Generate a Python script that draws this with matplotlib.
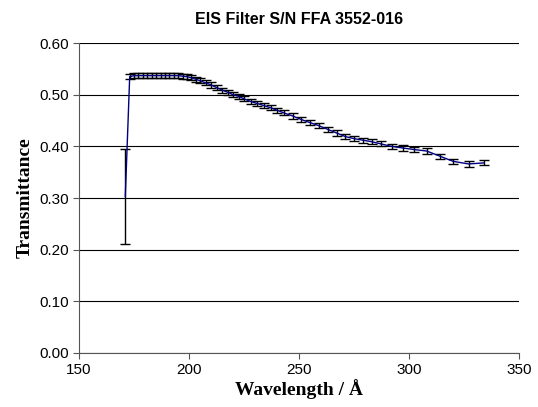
#!/usr/bin/env python3
"""EIS filter transmittance curve with error bars."""

import matplotlib
matplotlib.use("Agg")
import matplotlib.pyplot as plt

SANS = ["Liberation Sans", "DejaVu Sans"]
SERIF = ["Liberation Serif", "DejaVu Serif"]

wavelength = [171, 173, 175, 177, 179, 181, 183, 185, 187, 189, 191, 193, 195,
              197, 199, 201, 203, 205, 207.5, 210, 212.5, 215, 217.5, 220, 222.5,
              225, 228, 231, 234, 237, 240, 243, 247, 251, 255, 259, 263, 267,
              271, 275, 279, 283, 287, 292, 297, 302, 308, 314, 320, 327, 334]
transmittance = [0.303, 0.535, 0.537, 0.537, 0.537, 0.537, 0.537, 0.537, 0.537,
                 0.537, 0.537, 0.537, 0.537, 0.536, 0.535, 0.533, 0.530, 0.527,
                 0.523, 0.519, 0.514, 0.509, 0.505, 0.500, 0.497, 0.492, 0.487,
                 0.483, 0.479, 0.475, 0.470, 0.465, 0.459, 0.452, 0.446, 0.440,
                 0.433, 0.426, 0.419, 0.415, 0.412, 0.409, 0.405, 0.400, 0.397,
                 0.394, 0.391, 0.381, 0.371, 0.366, 0.368]
errors = [0.092] + [0.005] * 50

fig = plt.figure(figsize=(5.38, 4.07), dpi=100)
ax = fig.add_axes([0.147, 0.133, 0.818, 0.761])

ax.errorbar(wavelength, transmittance, yerr=errors, fmt="none", ecolor="black",
            elinewidth=1.0, capsize=3.5, capthick=1.0, zorder=2)
ax.plot(wavelength, transmittance, color="#000080", lw=1.0, zorder=3)

ax.set_xlim(150, 350)
ax.set_ylim(0, 0.6)
ax.set_xticks([150, 200, 250, 300, 350])
ax.set_yticks([0.0, 0.1, 0.2, 0.3, 0.4, 0.5, 0.6])
ax.set_yticklabels([f"{v:.2f}" for v in ax.get_yticks()])
ax.yaxis.grid(True, color="black", lw=0.8)
ax.set_axisbelow(True)
for s in ("top", "right"):
    ax.spines[s].set_visible(False)
for s in ("left", "bottom"):
    ax.spines[s].set_color("#555555")
ax.tick_params(direction="out", length=4, labelsize=11, color="#555555")
for lab in ax.get_xticklabels() + ax.get_yticklabels():
    lab.set_family(SANS)

ax.set_title("EIS Filter S/N FFA 3552-016", family=SANS, fontsize=11.5,
             fontweight="bold", pad=14)
ax.set_xlabel("Wavelength / Å", family=SERIF, fontsize=14, fontweight="bold",
              labelpad=1)
ax.set_ylabel("Transmittance", family=SERIF, fontsize=14, fontweight="bold")

fig.savefig("out.png", dpi=100, facecolor="white")
